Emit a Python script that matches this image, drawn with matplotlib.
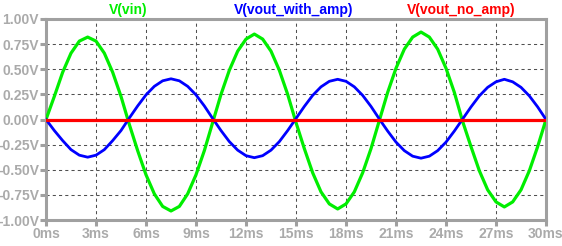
import matplotlib.pyplot as plt

# time in ms, sampled every 0.5 ms
t_ms = [i * 0.5 for i in range(61)]

v_in = [0.0, 0.23, 0.47, 0.66, 0.78, 0.82, 0.78, 0.66, 0.47, 0.23,
        -0.05, -0.31, -0.55, -0.74, -0.865, -0.91, -0.865, -0.74, -0.55, -0.31,
        -0.03, 0.25, 0.49, 0.68, 0.80, 0.85, 0.80, 0.68, 0.49, 0.25,
        -0.03, -0.29, -0.53, -0.72, -0.84, -0.89, -0.84, -0.72, -0.53, -0.29,
        -0.01, 0.27, 0.51, 0.70, 0.82, 0.87, 0.82, 0.70, 0.51, 0.27,
        -0.02, -0.27, -0.51, -0.70, -0.82, -0.87, -0.82, -0.70, -0.51, -0.27,
        0.0]

v_out_amp = [0.0, -0.11, -0.21, -0.30, -0.355, -0.375, -0.355, -0.30, -0.21, -0.11,
             0.015, 0.135, 0.245, 0.33, 0.385, 0.405, 0.385, 0.33, 0.245, 0.135,
             0.01, -0.11, -0.22, -0.305, -0.36, -0.38, -0.36, -0.305, -0.22, -0.11,
             0.01, 0.13, 0.24, 0.325, 0.38, 0.40, 0.38, 0.325, 0.24, 0.13,
             0.005, -0.115, -0.225, -0.31, -0.365, -0.385, -0.365, -0.31, -0.225, -0.115,
             0.005, 0.125, 0.235, 0.32, 0.375, 0.40, 0.375, 0.32, 0.235, 0.125,
             0.0]

v_out_no_amp = [0.0] * 61

x_ticks = [0, 3, 6, 9, 12, 15, 18, 21, 24, 27, 30]
y_ticks = [1.0, 0.75, 0.5, 0.25, 0.0, -0.25, -0.5, -0.75, -1.0]

GREEN = "#00ee00"
BLUE = "#0000ff"
RED = "#ff0000"
FRAME = "#a0a0a0"
LABEL = "#aaaaaa"

plt.rcParams["font.family"] = ["Liberation Sans", "DejaVu Sans"]
plt.rcParams["font.weight"] = "bold"

fig = plt.figure(figsize=(5.62, 2.46), dpi=100)
ax = fig.add_axes([46 / 562, 26 / 246, 500 / 562, 201 / 246])

ax.plot(t_ms, v_in, color=GREEN, lw=2.3, zorder=3)
ax.plot(t_ms, v_out_amp, color=BLUE, lw=2.0, zorder=4)
ax.plot(t_ms, v_out_no_amp, color=RED, lw=2.3, zorder=5)

ax.set_xlim(0, 30)
ax.set_ylim(-1.0, 1.0)
ax.set_xticks(x_ticks)
ax.set_xticklabels([f"{x}ms" for x in x_ticks])
ax.set_yticks(y_ticks)
ax.set_yticklabels([f"{y:.2f}V" for y in y_ticks])

ax.grid(True, color="#505050", lw=0.75, linestyle=(0, (3, 3)), zorder=1)
for s in ax.spines.values():
    s.set_color(FRAME)
    s.set_linewidth(2.2)
ax.tick_params(colors=FRAME, width=2.2, length=4.5, pad=0.5, labelsize=10,
               labelcolor=LABEL)

fig.text(128 / 562, 0.96, "V(vin)", color=GREEN, fontsize=10, fontweight="bold",
         ha="center", va="center")
fig.text(294 / 562, 0.96, "V(vout_with_amp)", color=BLUE, fontsize=10,
         fontweight="bold", ha="center", va="center")
fig.text(461 / 562, 0.96, "V(vout_no_amp)", color=RED, fontsize=10,
         fontweight="bold", ha="center", va="center")

fig.savefig("out.png", dpi=100)
